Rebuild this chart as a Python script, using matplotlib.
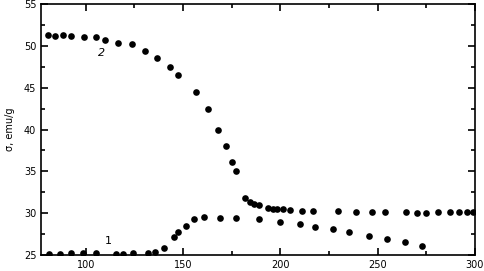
import matplotlib
matplotlib.use('Agg')
import matplotlib.pyplot as plt
from matplotlib.ticker import MultipleLocator

# curve 2 (upper, falls with T)
t2 = [80.3, 84.2, 88.3, 92.3, 99.0, 105.2, 110.0, 116.6, 123.7, 130.4, 136.8,
      143.1, 147.6, 156.5, 163.0, 168.2, 172.0, 174.9, 177.0, 182.0, 184.5,
      186.6, 188.8, 193.5, 196.2, 198.3, 201.4, 205.2, 211.0, 217.0, 229.5,
      238.7, 246.9, 254.0, 264.8, 270.3, 274.9, 281.1, 287.5, 292.1, 296.0, 299.3]
s2 = [51.3, 51.2, 51.3, 51.2, 51.1, 51.1, 50.7, 50.4, 50.2, 49.4, 48.6,
      47.5, 46.5, 44.5, 42.5, 39.9, 38.0, 36.1, 35.0, 31.8, 31.35,
      31.15, 30.95, 30.6, 30.5, 30.5, 30.45, 30.4, 30.3, 30.3, 30.25,
      30.2, 30.15, 30.2, 30.1, 30.05, 30.05, 30.1, 30.15, 30.1, 30.1, 30.1]

# curve 1 (lower, rises then drifts down)
t1 = [81.1, 86.8, 92.6, 98.6, 105.0, 115.5, 119.2, 124.1, 132.0, 135.7,
      140.2, 145.2, 147.6, 151.4, 155.8, 160.5, 168.9, 177.3, 188.8, 199.8,
      210.0, 218.0, 227.0, 235.2, 245.7, 254.8, 264.3, 273.0]
s1 = [25.1, 25.1, 25.2, 25.2, 25.2, 25.15, 25.15, 25.2, 25.3, 25.35,
      25.8, 27.1, 27.7, 28.5, 29.3, 29.5, 29.45, 29.4, 29.25, 29.0,
      28.7, 28.4, 28.1, 27.8, 27.3, 26.9, 26.5, 26.1]

fig = plt.figure(figsize=(4.84, 2.71), dpi=100)
ax = fig.add_axes([0.085, 0.059, 0.896, 0.926])

ax.plot(t2, s2, 'o', color='black', markersize=4.8, markeredgewidth=0)
ax.plot(t1, s1, 'o', color='black', markersize=4.8, markeredgewidth=0)

ax.text(108, 49.2, '2', fontsize=8, style='italic', ha='center', va='center')
ax.text(111.5, 26.7, '1', fontsize=8, ha='center', va='center')

ax.set_xlim(77, 300)
ax.set_ylim(25, 55)
ax.xaxis.set_major_locator(MultipleLocator(50))
ax.xaxis.set_minor_locator(MultipleLocator(25))
ax.yaxis.set_major_locator(MultipleLocator(5))
ax.yaxis.set_minor_locator(MultipleLocator(2.5))
ax.tick_params(which='both', direction='in', top=True, right=True, labelsize=7, width=1.2)
ax.tick_params(which='major', length=5)
ax.tick_params(which='minor', length=3)
for sp in ax.spines.values():
    sp.set_linewidth(1.2)

ax.set_ylabel('σ, emu/g', fontsize=7, labelpad=6)

fig.savefig('out.png', dpi=100)
